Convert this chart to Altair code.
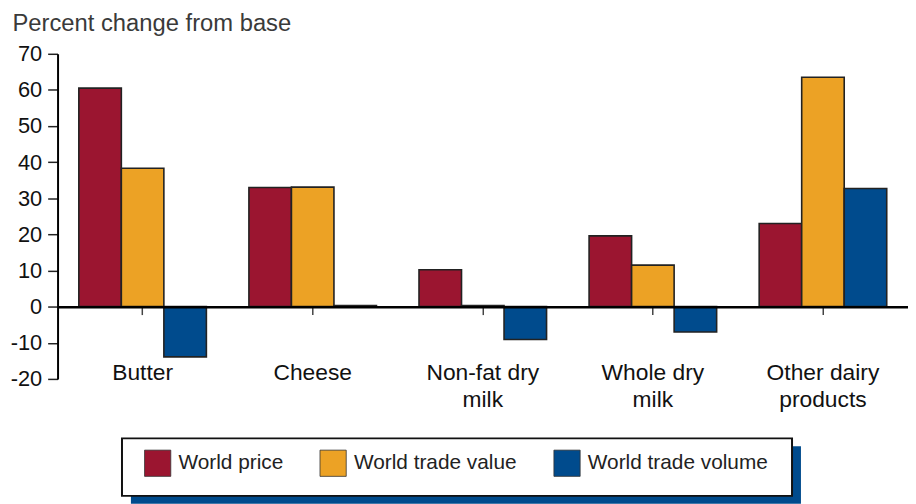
import altair as alt
import pandas as pd

categories = ["Butter", "Cheese", "Non-fat dry milk", "Whole dry milk", "Other dairy products"]
label_lines = [["Butter"], ["Cheese"], ["Non-fat dry", "milk"], ["Whole dry", "milk"], ["Other dairy", "products"]]
series = ["World price", "World trade value", "World trade volume"]
colors = ["#9b1530", "#eca225", "#004b8d"]

world_price = [60.5, 33.0, 10.2, 19.6, 23.0]
world_trade_value = [38.3, 33.1, 0.3, 11.5, 63.5]
world_trade_volume = [-13.9, 0.3, -9.1, -7.0, 32.7]

y_ticks = [-20, -10, 0, 10, 20, 30, 40, 50, 60, 70]

rows = []
for i, c in enumerate(categories):
    for s, vals in zip(series, [world_price, world_trade_value, world_trade_volume]):
        rows.append({"category": c, "series": s, "value": vals[i]})
df = pd.DataFrame(rows)

# label expression for multi-line category labels
expr_parts = []
for c, lines in zip(categories, label_lines):
    arr = "[" + ", ".join("'" + l + "'" for l in lines) + "]"
    expr_parts.append(f"datum.label == '{c}' ? {arr} : ")
label_expr = "".join(expr_parts) + "datum.label"

W = 858
H = 328
FONT = "Liberation Sans"
zero_offset = -H * (0 - y_ticks[0]) / (y_ticks[-1] - y_ticks[0])

bars = alt.Chart(df).mark_bar(stroke="#222222", strokeWidth=1.6).encode(
    x=alt.X(
        "category:N",
        sort=categories,
        scale=alt.Scale(paddingInner=0.25, paddingOuter=0.125),
        axis=alt.Axis(
            title=None,
            orient="bottom",
            offset=zero_offset,
            domainColor="#000000",
            domainWidth=2.5,
            tickColor="#444444",
            tickWidth=1.5,
            tickSize=8,
            labelAngle=0,
            labelFont=FONT,
            labelFontSize=23,
            labelColor="#111111",
            labelPadding=47,
            labelLineHeight=28,
            labelExpr=label_expr,
            zindex=1,
        ),
    ),
    xOffset=alt.XOffset("series:N", sort=series),
    y=alt.Y(
        "value:Q",
        scale=alt.Scale(domain=[y_ticks[0], y_ticks[-1]], nice=False),
        axis=alt.Axis(
            values=y_ticks,
            grid=False,
            domainColor="#000000",
            domainWidth=2,
            tickColor="#222222",
            tickWidth=1.5,
            tickSize=10,
            labelFont=FONT,
            labelFontSize=22,
            labelColor="#111111",
            labelPadding=6,
            labelExpr="datum.value < 0 ? '-' + abs(datum.value) : '' + datum.value",
            title="Percent change from base",
            titleAngle=0,
            titleAlign="left",
            titleBaseline="alphabetic",
            titleX=-46,
            titleY=-23,
            titleFont=FONT,
            titleFontSize=24,
            titleFontWeight="normal",
            titleColor="#3a3a3a",
        ),
    ),
    fill=alt.Fill(
        "series:N",
        sort=series,
        scale=alt.Scale(domain=series, range=colors),
        legend=alt.Legend(
            title=None,
            orient="none",
            direction="horizontal",
            legendX=87,
            legendY=399,
            symbolType="square",
            symbolSize=700,
            symbolStrokeColor="#333333",
            symbolStrokeWidth=0.8,
            symbolOpacity=1,
            labelFont=FONT,
            labelFontSize=21,
            labelColor="#222222",
            labelOffset=7,
            labelLimit=400,
            columnPadding=35,
            padding=0,
        ),
    ),
)

box_df = pd.DataFrame({"k": [0]})
shadow = alt.Chart(box_df).mark_rect(fill="#004b8d").encode(
    x=alt.value(74), x2=alt.value(750), y=alt.value(396), y2=alt.value(454)
)
box = alt.Chart(box_df).mark_rect(fill="#ffffff", stroke="#111111", strokeWidth=2).encode(
    x=alt.value(65), x2=alt.value(741), y=alt.value(388), y2=alt.value(446)
)

chart = alt.layer(shadow, box, bars).properties(
    width=W,
    height=H,
    autosize=alt.AutoSizeParams(type="none"),
    padding={"left": 50, "top": 44, "right": 0, "bottom": 124},
).configure_view(strokeWidth=0)

chart.save("out.html", embed_options={"renderer": "svg", "actions": False})
